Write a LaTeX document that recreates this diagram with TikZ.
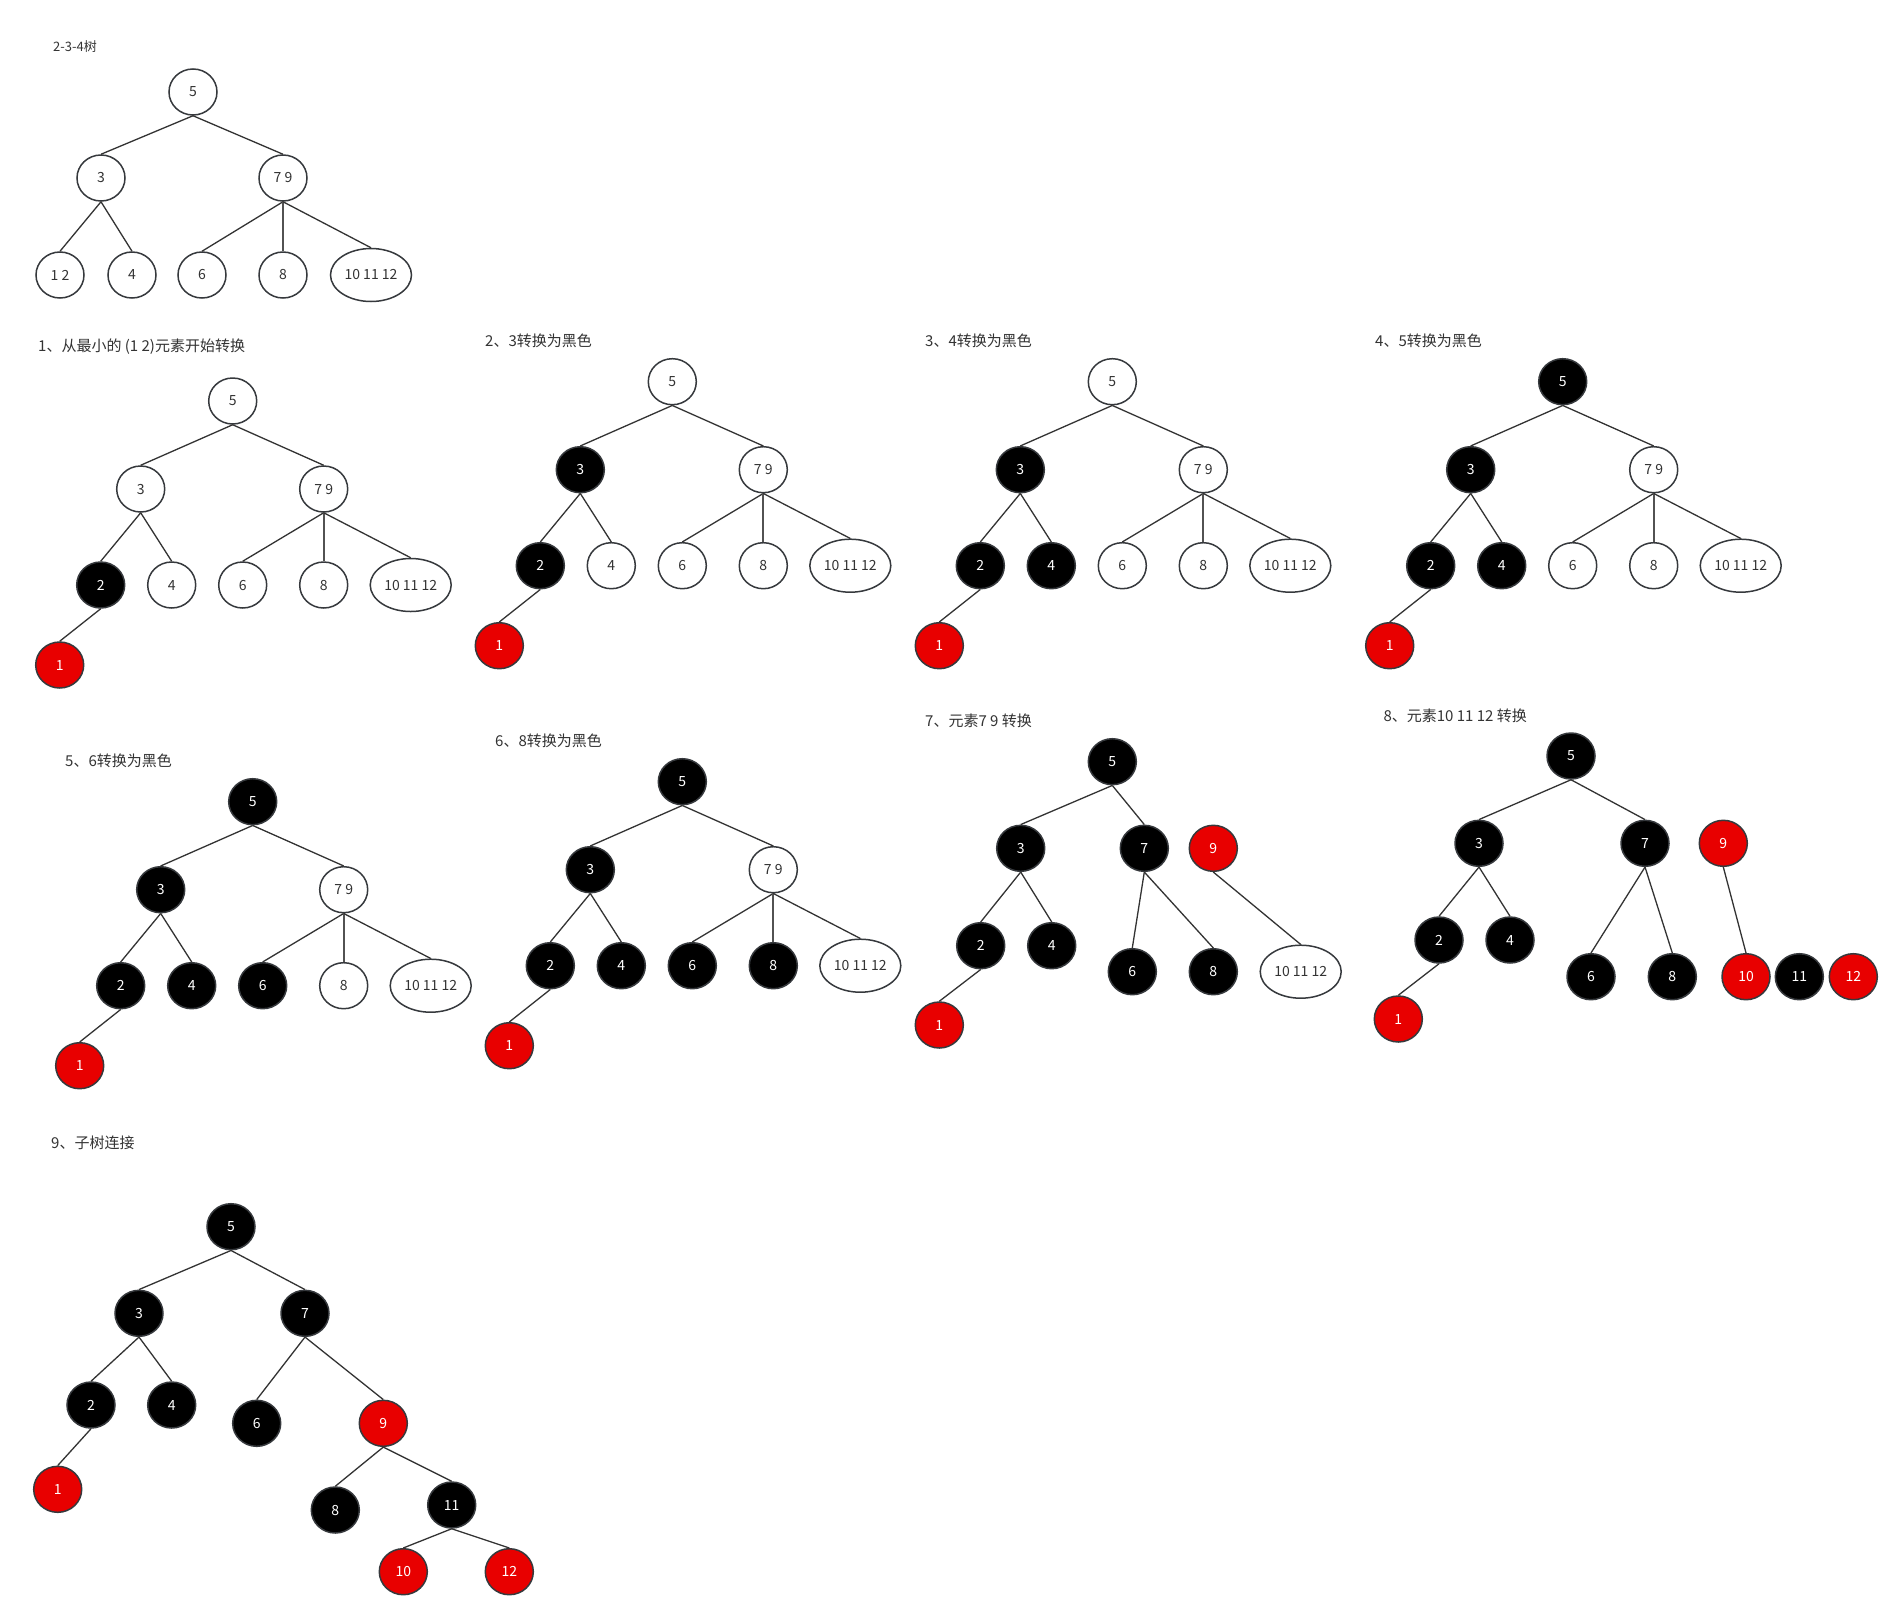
\documentclass[tikz,border=0pt]{standalone}
\usepackage{fontspec}
\setmainfont{Noto Sans CJK SC}
\usetikzlibrary{shapes.geometric}

\definecolor{inkgray}{HTML}{333333}
\definecolor{rimgray}{HTML}{36393D}
\definecolor{rbred}{HTML}{E80000}

\tikzset{
  nd/.style={ellipse, draw=rimgray, line width=1.5pt, inner sep=0pt,
             minimum width=48pt, minimum height=46pt,
             font=\fontsize{14}{16}\selectfont},
  wnode/.style={nd, fill=white, text=inkgray},
  bnode/.style={nd, fill=black, text=white},
  rnode/.style={nd, fill=rbred, text=white},
  bignode/.style={nd, fill=white, text=inkgray, minimum width=81pt, minimum height=53pt},
  link/.style={draw=inkgray, line width=1.3pt},
  vlink/.style={draw=inkgray!85, line width=2pt},
  ttl/.style={anchor=west, inner sep=0pt, text=inkgray, font=\fontsize{15}{18}\selectfont},
}

% One stage of the conversion: 5 on top, 3 and "7 9" below, then 2 4 6 8 "10 11 12", and 1 under 2.
% #1 name prefix, #2 root position, #3..#7 styles of 5, 3, 4, 6, 8
\newcommand\stagetree[7]{%
  \begin{scope}[shift={#2}]
    \node[#3] (#1r) at (0,0) {5};
    \node[#4] (#1a) at (-92,88) {3};
    \node[wnode] (#1b) at (91,88) {7 9};
    \node[bnode] (#1c) at (-132,184) {2};
    \node[#5] (#1d) at (-61,184) {4};
    \node[#6] (#1e) at (10,184) {6};
    \node[#7] (#1f) at (91,184) {8};
    \node[bignode] (#1g) at (178,184) {10 11 12};
    \node[rnode] (#1h) at (-173,264) {1};
    \draw[link] (#1r.south) -- (#1a.north);
    \draw[link] (#1r.south) -- (#1b.north);
    \draw[link] (#1a.south) -- (#1c.north);
    \draw[link] (#1a.south) -- (#1d.north);
    \draw[link] (#1b.south) -- (#1e.north);
    \draw[vlink] (#1b.south) -- (#1f.north);
    \draw[link] (#1b.south) -- (#1g.north);
    \draw[link] (#1c.south) -- (#1h.north);
  \end{scope}}

\begin{document}
\begin{tikzpicture}[x=1pt, y=-1pt]
  \fill[white] (0,0) rectangle (1902,1620);
  \useasboundingbox (0,0) rectangle (1902,1620);

  % the 2-3-4 tree
  \node[ttl, font=\fontsize{13}{16}\selectfont] (t0) at (53,47) {2-3-4树};
  \begin{scope}[shift={(193,92)}]
    \node[wnode] (o5) at (0,0) {5};
    \node[wnode] (o3) at (-92,86) {3};
    \node[wnode] (o79) at (90,86) {7 9};
    \node[wnode] (o12) at (-133,183) {1 2};
    \node[wnode] (o4) at (-61,183) {4};
    \node[wnode] (o6) at (9,183) {6};
    \node[wnode] (o8) at (90,183) {8};
    \node[bignode] (o10) at (178,183) {10 11 12};
    \draw[link] (o5.south) -- (o3.north);
    \draw[link] (o5.south) -- (o79.north);
    \draw[link] (o3.south) -- (o12.north);
    \draw[link] (o3.south) -- (o4.north);
    \draw[link] (o79.south) -- (o6.north);
    \draw[vlink] (o79.south) -- (o8.north);
    \draw[link] (o79.south) -- (o10.north);
  \end{scope}

  % steps 1 to 6
  \node[ttl] (t1) at (38,347) {1、从最小的 (1 2)元素开始转换};
  \stagetree{s1}{(232.7,401)}{wnode}{wnode}{wnode}{wnode}{wnode}

  \node[ttl] (t2) at (485,340.7) {2、3转换为黑色};
  \stagetree{s2}{(672.3,381.7)}{wnode}{bnode}{wnode}{wnode}{wnode}

  \node[ttl] (t3) at (925,340.7) {3、4转换为黑色};
  \stagetree{s3}{(1112.3,381.7)}{wnode}{bnode}{bnode}{wnode}{wnode}

  \node[ttl] (t4) at (1375,340.7) {4、5转换为黑色};
  \stagetree{s4}{(1562.7,381.7)}{bnode}{bnode}{bnode}{wnode}{wnode}

  \node[ttl] (t5) at (65,760.7) {5、6转换为黑色};
  \stagetree{s5}{(252.7,801.7)}{bnode}{bnode}{bnode}{bnode}{wnode}

  \node[ttl] (t6) at (495,740.7) {6、8转换为黑色};
  \stagetree{s6}{(682.3,781.7)}{bnode}{bnode}{bnode}{bnode}{bnode}

  % step 7: 7 9 split
  \node[ttl] (t7) at (925,720.7) {7、元素7 9 转换};
  \begin{scope}[shift={(1112.3,761.7)}]
    \node[bnode] (u5) at (0,0) {5};
    \node[bnode] (u3) at (-91.6,86.6) {3};
    \node[bnode] (u7) at (32,86.6) {7};
    \node[rnode] (u9) at (101,86.6) {9};
    \node[bnode] (u2) at (-131.6,184) {2};
    \node[bnode] (u4) at (-60.6,184) {4};
    \node[bnode] (u6) at (20,210) {6};
    \node[bnode] (u8) at (101,210) {8};
    \node[bignode] (u10) at (188.4,210) {10 11 12};
    \node[rnode] (u1) at (-173,263.3) {1};
    \draw[link] (u5.south) -- (u3.north);
    \draw[link] (u5.south) -- (u7.north);
    \draw[link] (u3.south) -- (u2.north);
    \draw[link] (u3.south) -- (u4.north);
    \draw[link] (u2.south) -- (u1.north);
    \draw[link] (u7.south) -- (u6.north);
    \draw[link] (u7.south) -- (u8.north);
    \draw[link] (u9.south) -- (u10.north);
  \end{scope}

  % step 8: 10 11 12 split
  \node[ttl] (t8) at (1383.3,715.7) {8、元素10 11 12 转换};
  \node[bnode] (v5) at (1571,756) {5};
  \node[bnode] (v3) at (1479,843.3) {3};
  \node[bnode] (v7) at (1645,843.3) {7};
  \node[rnode] (v9) at (1723.3,843.3) {9};
  \node[bnode] (v2) at (1439,940) {2};
  \node[bnode] (v4) at (1510,940) {4};
  \node[bnode] (v6) at (1591,976.7) {6};
  \node[bnode] (v8) at (1672.3,976.7) {8};
  \node[rnode] (v10) at (1746,976.7) {10};
  \node[bnode] (v11) at (1799.3,976.7) {11};
  \node[rnode] (v12) at (1853.3,976.7) {12};
  \node[rnode] (v1) at (1398.3,1019) {1};
  \draw[link] (v5.south) -- (v3.north);
  \draw[link] (v5.south) -- (v7.north);
  \draw[link] (v3.south) -- (v2.north);
  \draw[link] (v3.south) -- (v4.north);
  \draw[link] (v2.south) -- (v1.north);
  \draw[link] (v7.south) -- (v6.north);
  \draw[link] (v7.south) -- (v8.north);
  \draw[link] (v9.south) -- (v10.north);

  % step 9: the finished red-black tree
  \node[ttl] (t9) at (51,1142.3) {9、子树连接};
  \node[bnode] (w5) at (231,1226.7) {5};
  \node[bnode] (w3) at (139,1313.3) {3};
  \node[bnode] (w7) at (305,1313.3) {7};
  \node[bnode] (w2) at (91,1405) {2};
  \node[bnode] (w4) at (171.7,1405) {4};
  \node[bnode] (w6) at (256.7,1423.3) {6};
  \node[rnode] (w9) at (383.3,1423.3) {9};
  \node[rnode] (w1) at (57.7,1489.3) {1};
  \node[bnode] (w8) at (335.3,1510) {8};
  \node[bnode] (w11) at (451.7,1505) {11};
  \node[rnode] (w10) at (403.3,1571.7) {10};
  \node[rnode] (w12) at (509.3,1571.7) {12};
  \draw[link] (w5.south) -- (w3.north);
  \draw[link] (w5.south) -- (w7.north);
  \draw[link] (w3.south) -- (w2.north);
  \draw[link] (w3.south) -- (w4.north);
  \draw[link] (w2.south) -- (w1.north);
  \draw[link] (w7.south) -- (w6.north);
  \draw[link] (w7.south) -- (w9.north);
  \draw[link] (w9.south) -- (w8.north);
  \draw[link] (w9.south) -- (w11.north);
  \draw[link] (w11.south) -- (w10.north);
  \draw[link] (w11.south) -- (w12.north);
\end{tikzpicture}
\end{document}
